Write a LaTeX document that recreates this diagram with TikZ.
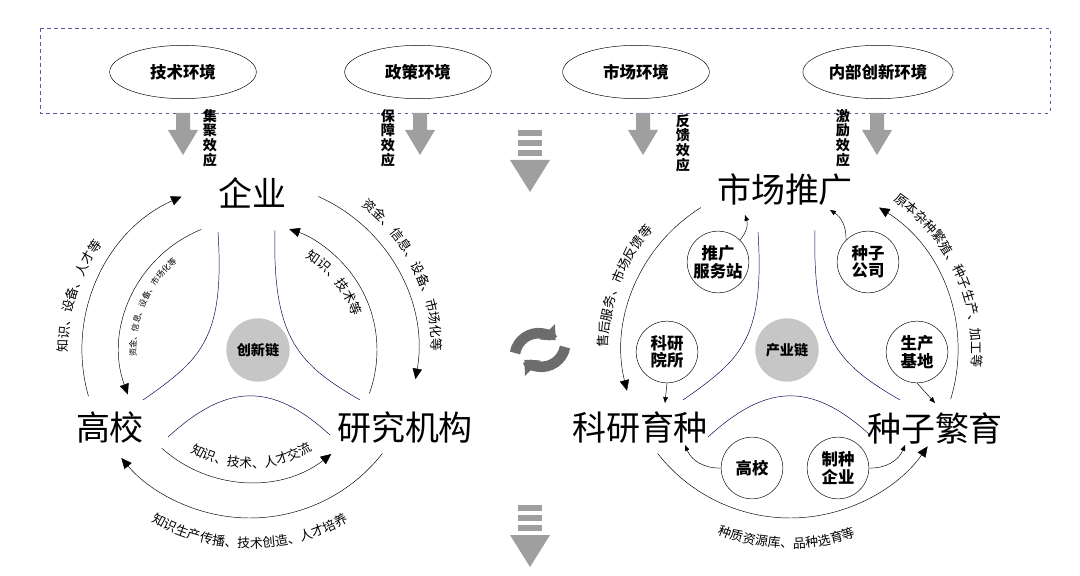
\documentclass[tikz,border=0pt]{standalone}
\usepackage{fontspec}
\newfontfamily\cjk{Noto Sans CJK SC}
\usetikzlibrary{arrows.meta,decorations.text,shapes.geometric}

\begin{document}
\begin{tikzpicture}[x=0.03cm,y=0.03cm,
    flow/.style={-{Triangle[length=9pt,width=8pt]}, thin},
    small flow/.style={-{Triangle[length=5pt,width=4pt]}, thin},
    envnode/.style={draw, ellipse, minimum width=4.4cm, minimum height=1.6cm, font=\cjk\fontsize{14}{14}\selectfont\bfseries},
    bigtext/.style={font=\cjk\fontsize{29}{29}\selectfont},
    actor/.style={draw, circle, fill=white, minimum size=1.85cm, inner sep=0pt, align=center, font=\cjk\fontsize{14}{15}\selectfont\bfseries},
    hub/.style={circle, fill=gray!45, minimum size=1.9cm, inner sep=0pt, font=\cjk\fontsize{12}{12}\selectfont\bfseries},
    effect/.style={align=center, font=\cjk\fontsize{12}{12.5}\selectfont\bfseries},
    downarrow/.style={fill=gray!75, draw=none},
    curve/.style={draw=blue!30!black, thin}]
    \useasboundingbox (0,0) rectangle (1080,575);
    % environment band
    \draw[dashed, draw=blue!30!gray] (40,547) rectangle (1050,462);
    \node[envnode] (tech) at (183,503) {技术环境};
    \node[envnode] (policy) at (418,503) {政策环境};
    \node[envnode] (market) at (636,503) {市场环境};
    \node[envnode] (inner) at (878,503) {内部创新环境};
    \foreach \x in {183,420,643,877}
        \fill[downarrow] (\x-7,462) -- (\x+7,462) -- (\x+7,445) -- (\x+15,445) -- (\x,420) -- (\x-15,445) -- (\x-7,445) -- cycle;
    \node[effect] (e1) at (210,437) {集\\聚\\效\\应};
    \node[effect] (e2) at (388,437) {保\\障\\效\\应};
    \node[effect] (e3) at (683,432) {反\\馈\\效\\应};
    \node[effect] (e4) at (843,437) {激\\励\\效\\应};
    % striped arrows
    \foreach \y in {445,70} {
        \foreach \k in {0,1,2}
            \fill[downarrow] (518,\y-\k*10) rectangle (542,\y-\k*10-6);
        \fill[downarrow] (510,\y-30) -- (550,\y-30) -- (530,\y-62) -- cycle;
    }
    % exchange icon
    \draw[gray!85!black, line width=9pt, -{Triangle[length=10pt,width=18pt]}] (515,222) arc[start angle=170,end angle=45,radius=24];
    \draw[gray!85!black, line width=9pt, -{Triangle[length=10pt,width=18pt]}] (565,228) arc[start angle=-10,end angle=-135,radius=24];

    % innovation chain
    \begin{scope}[shift={(250,225)}]
        \node[bigtext] (qy) at (2,157) {企业};
        \node[bigtext] (gx) at (-140,-78) {高校};
        \node[bigtext] (yjjg) at (155,-78) {研究机构};
        \node[hub] (cxl) at (8,0) {创新链};
        \path[curve] (-32,118) .. controls (-25,10) and (-50,-10) .. (-107,-50);
        \path[curve] (25,120) .. controls (22,10) and (50,-15) .. (110,-50);
        \path[curve] (-82,-87) .. controls (-25,-35) and (20,-30) .. (80,-85);
        \draw[flow] (196:168) arc[start angle=196,end angle=114,radius=168];
        \draw[flow] (66:168) arc[start angle=66,end angle=-10,radius=168];
        \draw[flow] (-38:168) arc[start angle=-38,end angle=-140,radius=168];
        \draw[flow] (112:130) arc[start angle=112,end angle=200,radius=130];
        \draw[flow] (-20:127) arc[start angle=-20,end angle=72,radius=127];
        \draw[flow] (228:132) arc[start angle=228,end angle=308,radius=132];
        \path[decorate, decoration={text along path, text align=center,
            text={|\cjk\fontsize{11}{11}\selectfont|知识、设备、人才等}}]
            (200:182) arc[start angle=200,end angle=125,radius=182];
        \path[decorate, decoration={text along path, text align=center,
            text={|\cjk\fontsize{11}{11}\selectfont|资金、信息、设备、市场化等}}]
            (60:182) arc[start angle=60,end angle=-8,radius=182];
        \path[decorate, decoration={text along path, text align=center,
            text={|\cjk\fontsize{11}{11}\selectfont|知识生产传播、技术创造、人才培养}}]
            (222:198) arc[start angle=222,end angle=318,radius=198];
        \path[decorate, decoration={text along path, text align=center,
            text={|\cjk\fontsize{7}{7}\selectfont|资金、信息、设备、市场化等}}]
            (205:114) arc[start angle=205,end angle=108,radius=114];
        \path[decorate, decoration={text along path, text align=center,
            text={|\cjk\fontsize{11}{11}\selectfont|知识、技术等}}]
            (72:108) arc[start angle=72,end angle=5,radius=108];
        \path[decorate, decoration={text along path, text align=center,
            text={|\cjk\fontsize{11}{11}\selectfont|知识、技术、人才交流}}]
            (236:118) arc[start angle=236,end angle=306,radius=118];
    \end{scope}

    % industry chain
    \begin{scope}[shift={(790,225)}]
        \node[bigtext] (sctg) at (-5,160) {市场推广};
        \node[bigtext] (kyyz) at (-150,-78) {科研育种};
        \node[bigtext] (zzfy) at (145,-78) {种子繁育};
        \node[hub] (cyl) at (-3,0) {产业链};
        \path[curve] (-32,118) .. controls (-25,10) and (-50,-10) .. (-107,-50);
        \path[curve] (25,120) .. controls (22,10) and (50,-15) .. (110,-50);
        \path[curve] (-82,-87) .. controls (-25,-35) and (20,-30) .. (80,-85);
        \draw[flow] (122:168) arc[start angle=122,end angle=194,radius=168];
        \draw[flow] (-17:168) arc[start angle=-17,end angle=58,radius=168];
        \draw[flow] (218:168) arc[start angle=218,end angle=325,radius=168];
        \node[actor] (tgz) at (-72,88) {推广\\服务站};
        \node[actor] (zzgs) at (78,88) {种子\\公司};
        \node[actor] (kyys) at (-123,-2) {科研\\院所};
        \node[actor] (scjd) at (127,-2) {生产\\基地};
        \node[actor] (gx2) at (-38,-118) {高校};
        \node[actor] (zzqy) at (48,-118) {制种\\企业};
        \draw[small flow] (tgz.north east) to[bend right=30] (-45,135);
        \draw[small flow] (zzgs.north west) to[bend right=30] (40,140);
        \draw[small flow] (kyys.south) -- (-125,-53);
        \draw[small flow] (scjd.south) -- (145,-53);
        \draw[small flow] (gx2.west) to[bend left=35] (-105,-95);
        \draw[small flow] (zzqy.east) to[bend right=35] (115,-95);
        \path[decorate, decoration={text along path, text align=center,
            text={|\cjk\fontsize{11}{11}\selectfont|售后服务、市场反馈等}}]
            (200:182) arc[start angle=200,end angle=118,radius=182];
        \path[decorate, decoration={text along path, text align=center,
            text={|\cjk\fontsize{11}{11}\selectfont|原本杂种繁殖、种子生产、加工等}}]
            (64:182) arc[start angle=64,end angle=-14,radius=182];
        \path[decorate, decoration={text along path, text align=center,
            text={|\cjk\fontsize{11}{11}\selectfont|种质资源库、品种选育等}}]
            (232:198) arc[start angle=232,end angle=306,radius=198];
    \end{scope}
\end{tikzpicture}
\end{document}
